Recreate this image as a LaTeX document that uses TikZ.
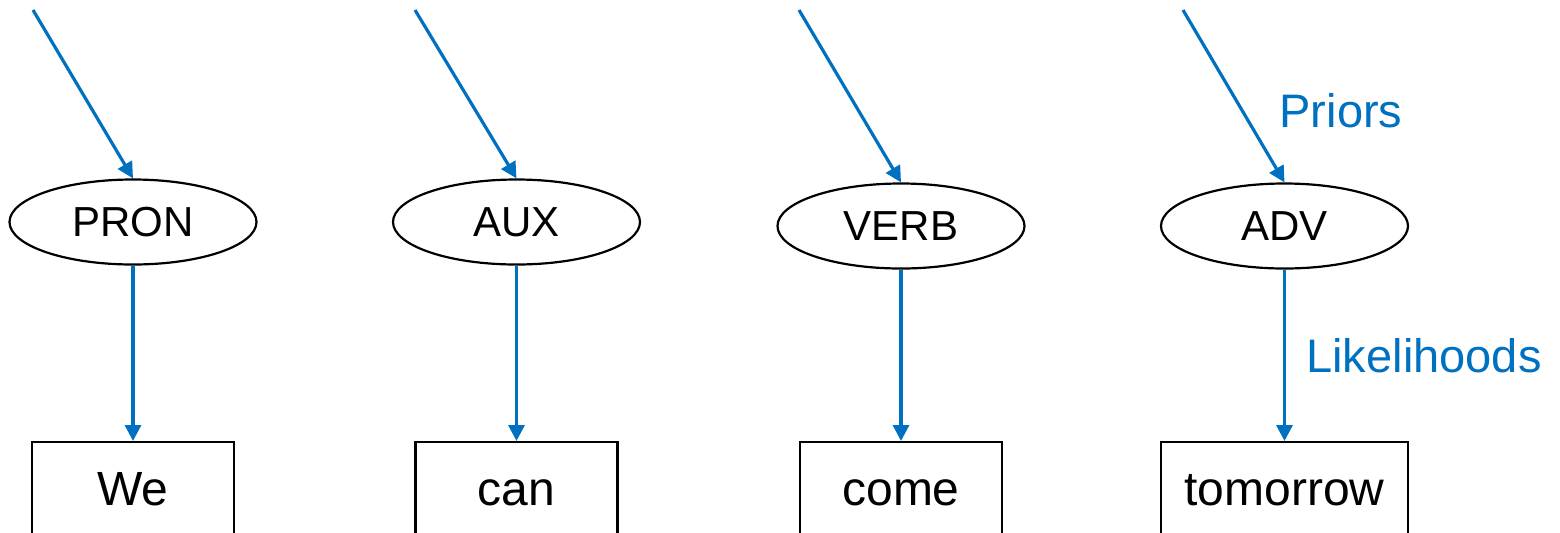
\documentclass[tikz,border=0pt]{standalone}
\usepackage{fontspec}
\setmainfont{Liberation Sans}
\usetikzlibrary{arrows.meta,shapes.geometric}
\definecolor{priorblue}{RGB}{0,112,192}

\begin{document}
\begin{tikzpicture}[x=0.5pt, y=-0.5pt,
        tag/.style={draw, line width=1.1pt, ellipse, minimum width=123.5pt, minimum height=42.5pt, inner sep=0pt, font=\fontsize{21}{25}\selectfont},
        word/.style={draw, line width=1.1pt, anchor=north, minimum height=49pt, inner sep=0pt, text height=18.5pt, text depth=4.5pt, font=\fontsize{24}{28}\selectfont},
        link/.style={draw=priorblue, line width=1.6pt, -{Triangle[width=8pt, length=8pt]}},
        lab/.style={text=priorblue, font=\fontsize{23.5}{28}\selectfont}]
    \useasboundingbox (0,0) rectangle (1560,532);

    % hidden tags
    \node[tag] (pron) at (133,222) {PRON};
    \node[tag] (aux) at (516.5,222) {AUX};
    \node[tag] (verb) at (901,226) {VERB};
    \node[tag] (adv) at (1284.5,226) {ADV};

    % observed words
    \node[word, minimum width=101pt] (we) at (133,441) {We};
    \node[word, minimum width=101pt] (can) at (516.5,441) {can};
    \node[word, minimum width=101pt] (come) at (901,441) {come};
    \node[word, minimum width=123.5pt] (tomorrow) at (1284.5,441) {tomorrow};

    % prior arrows come in from above
    \coordinate (p1) at (33,10);
    \coordinate (p2) at (415,10);
    \coordinate (p3) at (799,10);
    \coordinate (p4) at (1183,10);
    \draw[link] (p1) -- (pron.north);
    \draw[link] (p2) -- (aux.north);
    \draw[link] (p3) -- (verb.north);
    \draw[link] (p4) -- (adv.north);

    % likelihoods
    \draw[link] (pron.south) -- (we.north);
    \draw[link] (aux.south) -- (can.north);
    \draw[link] (verb.south) -- (come.north);
    \draw[link] (adv.south) -- (tomorrow.north);

    \node[lab] (priors) at (1341,111) {Priors};
    \node[lab, anchor=west, inner sep=0pt] (likeli) at (1306,356) {Likelihoods};
\end{tikzpicture}
\end{document}
